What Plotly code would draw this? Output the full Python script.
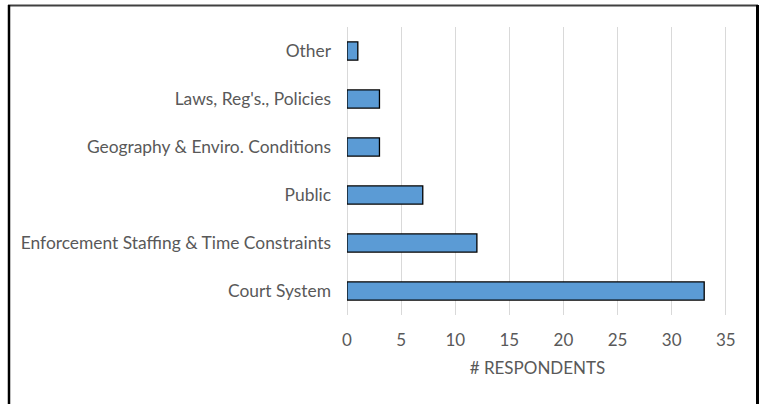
import plotly.graph_objects as go

# Barriers reported, bottom-to-top order on the chart
categories = [
    "Court System",
    "Enforcement Staffing & Time Constraints",
    "Public",
    "Geography & Enviro. Conditions",
    "Laws, Reg's., Policies",
    "Other",
]
respondents = [33, 12, 7, 3, 3, 1]
x_ticks = [0, 5, 10, 15, 20, 25, 30, 35]

W, H = 761, 404
L, R, T, B = 347, 33, 27, 89
pw, ph = W - L - R, H - T - B

def px_x(px):
    return (px - L) / pw

def px_y(py):
    return (H - B - py) / ph

fig = go.Figure(
    go.Bar(
        x=respondents,
        y=categories,
        orientation="h",
        marker=dict(color="#5B9BD5", line=dict(color="#000000", width=1.3)),
        width=0.38,
    )
)

font = dict(family="Lato, Open Sans, sans-serif", color="#595959", size=17)

fig.update_layout(
    width=W,
    height=H,
    margin=dict(l=L, r=R, t=T, b=B),
    paper_bgcolor="white",
    plot_bgcolor="white",
    showlegend=False,
    font=font,
    xaxis=dict(
        range=[0, 35.2],
        tickvals=x_ticks,
        showgrid=True,
        gridcolor="#D9D9D9",
        gridwidth=1,
        zeroline=True,
        zerolinecolor="#D9D9D9",
        zerolinewidth=1,
        showline=False,
        ticks="",
        ticklabelstandoff=13,
        tickfont=dict(size=17),
        title=dict(text="# RESPONDENTS", font=dict(size=17, color="#595959"), standoff=13),
        fixedrange=True,
    ),
    yaxis=dict(
        categoryorder="array",
        categoryarray=categories,
        range=[-0.5, 5.5],
        showgrid=False,
        zeroline=False,
        showline=False,
        ticks="",
        ticklabelstandoff=15,
        tickfont=dict(size=17.4),
        fixedrange=True,
    ),
    shapes=[
        # outer frame around the chart area
        dict(type="line", xref="paper", yref="paper",
             x0=px_x(8), x1=px_x(758), y0=px_y(5.5), y1=px_y(5.5),
             line=dict(color="#404040", width=2)),
        dict(type="line", xref="paper", yref="paper",
             x0=px_x(9), x1=px_x(9), y0=px_y(5), y1=px_y(410),
             line=dict(color="#000000", width=2.5)),
        dict(type="line", xref="paper", yref="paper",
             x0=px_x(757.5), x1=px_x(757.5), y0=px_y(5), y1=px_y(410),
             line=dict(color="#000000", width=3)),
    ],
)

fig.write_html("out.html")
